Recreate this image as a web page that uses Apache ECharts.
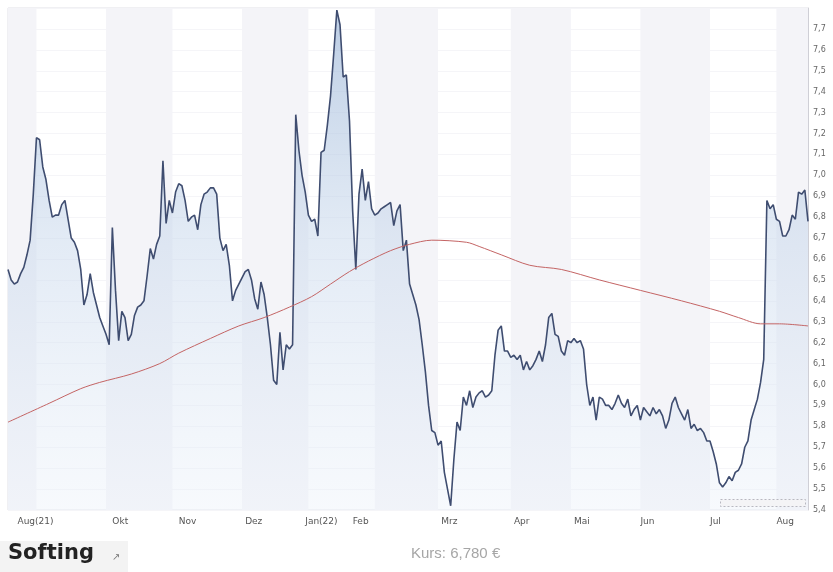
<!DOCTYPE html>
<html>
<head>
<meta charset="utf-8">
<script src="https://cdn.jsdelivr.net/npm/echarts@6/dist/echarts.min.js"></script>
<style>
  html, body { margin: 0; padding: 0; background: #ffffff; }
  #chart { width: 833px; height: 572px; }
</style>
</head>
<body>
<div id="chart"></div>
<script>
// Daily closing prices (trading days, Aug 2021 - Aug 2022), EUR
var price = [
  6.55,6.50,6.48,6.49,6.53,6.56,6.62,6.69,6.91,7.18,
  7.17,7.04,6.98,6.88,6.80,6.81,6.81,6.86,6.88,6.79,
  6.70,6.68,6.64,6.55,6.38,6.43,6.53,6.44,6.38,6.32,
  6.28,6.24,6.19,6.75,6.45,6.21,6.35,6.32,6.21,6.24,
  6.33,6.37,6.38,6.40,6.52,6.65,6.60,6.67,6.71,7.07,
  6.77,6.88,6.82,6.92,6.96,6.95,6.88,6.78,6.80,6.81,
  6.74,6.86,6.91,6.92,6.94,6.94,6.91,6.70,6.64,6.67,
  6.57,6.40,6.45,6.48,6.51,6.54,6.55,6.50,6.41,6.36,
  6.49,6.43,6.32,6.19,6.02,6.00,6.25,6.07,6.19,6.17,
  6.19,7.29,7.12,7.00,6.92,6.81,6.78,6.79,6.71,7.11,
  7.12,7.24,7.38,7.58,7.79,7.72,7.47,7.48,7.26,6.83,
  6.55,6.91,7.03,6.88,6.97,6.84,6.81,6.82,6.84,6.85,
  6.86,6.87,6.76,6.83,6.86,6.64,6.69,6.48,6.43,6.38,
  6.31,6.19,6.06,5.90,5.78,5.77,5.71,5.73,5.58,5.50,
  5.42,5.64,5.82,5.78,5.94,5.90,5.97,5.89,5.94,5.96,
  5.97,5.94,5.95,5.97,6.14,6.26,6.28,6.16,6.16,6.13,
  6.14,6.12,6.14,6.07,6.11,6.07,6.09,6.12,6.16,6.11,
  6.19,6.32,6.34,6.24,6.23,6.16,6.14,6.21,6.20,6.22,
  6.20,6.21,6.17,6.00,5.90,5.94,5.83,5.94,5.93,5.90,
  5.90,5.88,5.91,5.95,5.91,5.89,5.93,5.85,5.88,5.90,
  5.83,5.89,5.87,5.85,5.89,5.86,5.88,5.85,5.79,5.83,
  5.91,5.94,5.89,5.86,5.83,5.88,5.79,5.81,5.78,5.79,
  5.77,5.73,5.73,5.68,5.62,5.53,5.51,5.53,5.56,5.54,
  5.58,5.59,5.62,5.70,5.73,5.83,5.88,5.93,6.01,6.12,
  6.88,6.84,6.86,6.79,6.78,6.71,6.71,6.74,6.81,6.79,
  6.92,6.91,6.93,6.78
];

// 200-day moving average, read at selected trading-day indices
var maIdx = [0,13,23,29,39,48,54,64,73,81,89,96,102,108,114,121,127,134,145,149,156,165,175,187,200,213,225,231,238,244,253];
var maVal = [5.82,5.91,5.98,6.01,6.05,6.10,6.15,6.22,6.28,6.32,6.37,6.42,6.48,6.54,6.59,6.64,6.67,6.69,6.68,6.66,6.62,6.57,6.55,6.50,6.45,6.40,6.35,6.32,6.29,6.29,6.28];

// Month labels (trading-day index, text)
var xLabelIdx  = [3, 33, 54, 75, 94, 109, 137, 160, 179, 200, 222, 243];
var xLabelText = ['Aug(21)','Okt','Nov','Dez','Jan(22)','Feb','Mrz','Apr','Mai','Jun','Jul','Aug'];

// Alternating shaded months (trading-day index ranges)
var bandStart = [0, 31, 74, 116, 159, 200, 243];
var bandEnd   = [9, 52, 95, 136, 178, 222, 253];

var stockName = 'Softing';
var lastQuote = 'Kurs: 6,780 €';

var categories = price.map(function (_, i) { return String(i); });
var labelMap = {};
xLabelIdx.forEach(function (idx, k) { labelMap[idx] = xLabelText[k]; });
var maData = maIdx.map(function (idx, k) { return [String(idx), maVal[k]]; });
var bands = bandStart.map(function (s, k) { return [{ xAxis: s }, { xAxis: bandEnd[k] }]; });

var chart = echarts.init(document.getElementById('chart'), null, { renderer: 'canvas' });
chart.setOption({
  backgroundColor: '#ffffff',
  animation: false,
  grid: {
    left: 8, right: 25, top: 8, bottom: 62,
    show: true, borderColor: '#e0e0e6', borderWidth: 1, backgroundColor: 'transparent'
  },
  xAxis: {
    type: 'category',
    data: categories,
    boundaryGap: false,
    axisLine: { show: false },
    axisTick: { show: false },
    splitLine: { show: false },
    axisLabel: {
      interval: function (i) { return labelMap.hasOwnProperty(i); },
      formatter: function (v, i) { return labelMap[i] || ''; },
      align: 'left',
      margin: 7,
      color: '#555',
      fontSize: 9,
      fontFamily: 'DejaVu Sans'
    }
  },
  yAxis: {
    type: 'value',
    position: 'right',
    min: 5.4,
    max: 7.8,
    interval: 0.1,
    axisLine: { show: true, lineStyle: { color: '#cfcfd6' } },
    axisTick: { show: false },
    splitLine: { show: true, lineStyle: { color: '#f5f5f8' } },
    axisLabel: {
      margin: 5,
      color: '#666',
      fontSize: 8,
      fontFamily: 'DejaVu Sans',
      formatter: function (v) {
        if (v > 7.75) return '';
        return v.toFixed(1).replace('.', ',');
      }
    }
  },
  series: [
    {
      name: 'bands',
      type: 'line',
      data: [],
      silent: true,
      z: 0,
      markArea: {
        silent: true,
        itemStyle: { color: '#f4f4f8' },
        data: bands
      }
    },
    {
      name: 'Kurs',
      type: 'line',
      data: price,
      z: 3,
      showSymbol: false,
      smooth: false,
      lineStyle: { color: '#3f4d70', width: 1.6 },
      areaStyle: {
        origin: 'start',
        color: new echarts.graphic.LinearGradient(0, 0, 0, 1, [
          { offset: 0, color: 'rgba(150,177,213,0.9)' },
          { offset: 0.45, color: 'rgba(200,216,236,0.75)' },
          { offset: 1, color: 'rgba(236,242,250,0.6)' }
        ])
      }
    },
    {
      name: 'GD200',
      type: 'line',
      data: maData,
      z: 4,
      showSymbol: false,
      smooth: 0.3,
      lineStyle: { color: '#c46464', width: 1 }
    }
  ],
  graphic: [
    {
      type: 'rect', left: 720, top: 499, z: 10,
      shape: { width: 85, height: 7 },
      style: { fill: '#f4f4f6', stroke: '#b8b8c0', lineWidth: 1, lineDash: [2, 2] }
    },
    {
      type: 'rect', left: 0, top: 541, z: 10,
      shape: { width: 128, height: 31 },
      style: { fill: '#f3f3f3' }
    },
    {
      type: 'text', left: 8, top: 543, z: 11,
      style: { text: stockName, font: 'bold 21px "DejaVu Sans"', fill: '#222' }
    },
    {
      type: 'text', left: 112, top: 552, z: 11,
      style: { text: '↗', font: '10px "DejaVu Sans"', fill: '#777' }
    },
    {
      type: 'text', left: 411, top: 546, z: 11,
      style: { text: lastQuote, font: '15px "Liberation Sans"', fill: '#a6a6a6' }
    }
  ]
});
</script>
</body>
</html>
